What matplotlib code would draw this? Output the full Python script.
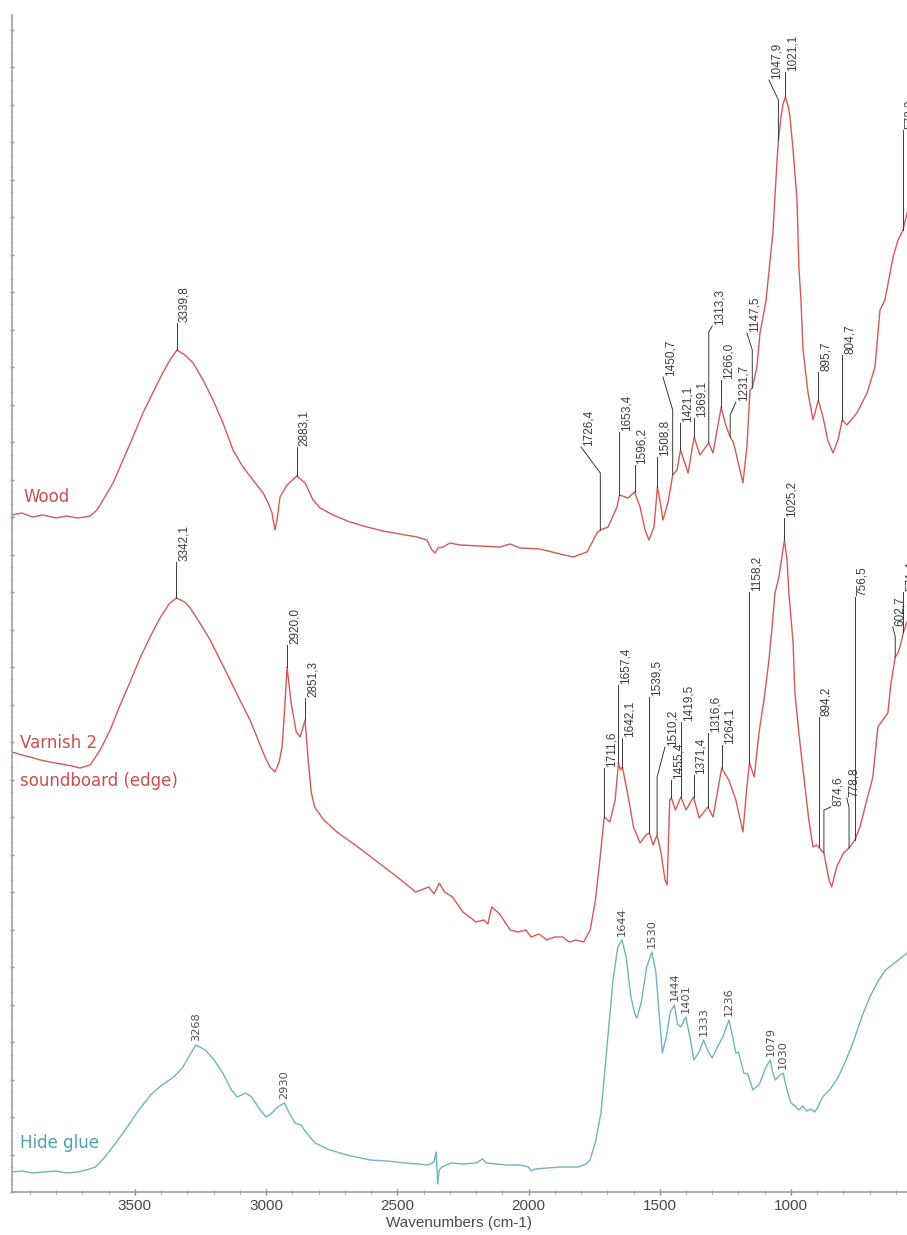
import numpy as np
import matplotlib
matplotlib.use("Agg")
import matplotlib.pyplot as plt
from matplotlib.ticker import MultipleLocator

# ---------------------------------------------------------------------------
# FTIR spectra, stacked (wavenumber in cm-1, absorbance in arbitrary units)
# ---------------------------------------------------------------------------
wood_wn = [3968, 3930, 3890, 3850, 3800, 3760, 3720, 3690, 3670, 3644, 3621, 3583,
           3545, 3507, 3469, 3430, 3392, 3366, 3339.8, 3309, 3278, 3240, 3202, 3164,
           3126, 3088, 3050, 3011, 2992, 2977, 2973, 2966, 2958, 2947, 2920, 2883.1,
           2851, 2821, 2794, 2745, 2680, 2615, 2554, 2490, 2425, 2387, 2368, 2356, 2345,
           2326, 2299, 2261, 2185, 2109, 2070, 2032, 1956, 1880, 1830, 1777, 1739,
           1726.4, 1697, 1663, 1653.4, 1621, 1596.2, 1575, 1556, 1541, 1522, 1508.8,
           1495, 1488, 1469, 1450.7, 1434, 1421.1, 1392, 1369.1, 1347, 1313.3, 1297,
           1266.0, 1250, 1231.7, 1220, 1206, 1183, 1168, 1156, 1147.5, 1130, 1118,
           1095, 1069, 1053, 1047.9, 1038, 1030, 1021.1, 1010, 1004, 992, 977, 970,
           962, 954, 935, 916, 895.7, 878, 860, 840, 821, 804.7, 787, 749, 710, 680,
           661, 642, 611, 592, 573.2, 558]
wood_abs = [0.677, 0.679, 0.675, 0.677, 0.674, 0.676, 0.674, 0.675, 0.676, 0.682, 0.692, 0.709,
            0.732, 0.755, 0.779, 0.800, 0.820, 0.832, 0.842, 0.837, 0.829, 0.812, 0.792, 0.769,
            0.742, 0.725, 0.712, 0.699, 0.689, 0.679, 0.672, 0.662, 0.672, 0.695, 0.707, 0.716,
            0.709, 0.692, 0.684, 0.677, 0.670, 0.665, 0.661, 0.658, 0.655, 0.652, 0.642, 0.639, 0.644,
            0.645, 0.649, 0.647, 0.646, 0.645, 0.648, 0.644, 0.643, 0.638, 0.635, 0.640, 0.659,
            0.662, 0.665, 0.685, 0.697, 0.694, 0.700, 0.685, 0.662, 0.652, 0.665, 0.705,
            0.685, 0.672, 0.689, 0.717, 0.722, 0.742, 0.719, 0.755, 0.737, 0.749, 0.739,
            0.785, 0.768, 0.755, 0.750, 0.735, 0.709, 0.745, 0.802, 0.804, 0.825, 0.859,
            0.892, 0.959, 1.032, 1.052, 1.075, 1.088, 1.095, 1.085, 1.075, 1.042, 0.992, 0.925,
            0.892, 0.842, 0.799, 0.772, 0.792, 0.775, 0.752, 0.739, 0.752, 0.772, 0.767, 0.779,
            0.799, 0.825, 0.882, 0.892, 0.935, 0.952, 0.962, 0.979]
wood_peaks = [3339.8, 2883.1, 1726.4, 1653.4, 1596.2, 1508.8, 1450.7, 1421.1, 1369.1,
              1313.3, 1266.0, 1231.7, 1147.5, 1047.9, 1021.1, 895.7, 804.7, 573.2]

varnish_wn = [3968, 3930, 3899, 3860, 3823, 3780, 3740, 3709, 3670, 3632, 3594, 3556,
              3518, 3480, 3442, 3404, 3370, 3342.1, 3310, 3289, 3250, 3213, 3175, 3137,
              3100, 3061, 3030, 3004, 2985, 2966, 2950, 2939, 2930, 2920.0, 2905, 2885,
              2870, 2851.3, 2839, 2828, 2815, 2780, 2730, 2650, 2600, 2500, 2430, 2380,
              2360, 2340, 2320, 2290, 2250, 2200, 2170, 2155, 2140, 2110, 2090, 2070, 2040,
              2010, 1990, 1960, 1930, 1900, 1870, 1845, 1820, 1790, 1765, 1745, 1725,
              1711.6, 1690, 1670, 1657.4, 1650, 1642.1, 1620, 1600, 1575, 1553, 1539.5,
              1525, 1510.2, 1495, 1480, 1472, 1462, 1455.4, 1440, 1419.5, 1400, 1371.4,
              1350, 1316.6, 1297, 1264.1, 1237, 1210, 1183, 1168, 1158.2, 1140, 1122,
              1103, 1084, 1072, 1061, 1046, 1025.2, 1015, 1008, 992, 985, 970, 951, 932,
              916, 903, 894.2, 886, 874.6, 855, 845, 826, 800, 778.8, 756.5, 737, 714,
              688, 669, 650, 631, 619, 602.7, 592, 581, 571.4, 558]
varnish_abs = [0.440, 0.437, 0.435, 0.432, 0.430, 0.428, 0.426, 0.424, 0.427, 0.442, 0.462, 0.487,
               0.510, 0.534, 0.555, 0.574, 0.588, 0.594, 0.590, 0.584, 0.568, 0.552, 0.532, 0.512,
               0.492, 0.472, 0.452, 0.435, 0.425, 0.420, 0.430, 0.445, 0.480, 0.525, 0.490, 0.460,
               0.455, 0.472, 0.430, 0.400, 0.385, 0.372, 0.360, 0.345, 0.335, 0.315, 0.300, 0.305,
               0.298, 0.309, 0.300, 0.295, 0.280, 0.270, 0.272, 0.268, 0.285, 0.278, 0.270, 0.262, 0.260,
               0.262, 0.255, 0.258, 0.252, 0.255, 0.255, 0.250, 0.252, 0.250, 0.262, 0.292, 0.340,
               0.375, 0.370, 0.392, 0.429, 0.422, 0.425, 0.395, 0.365, 0.349, 0.357, 0.359,
               0.347, 0.357, 0.339, 0.312, 0.307, 0.392, 0.394, 0.382, 0.395, 0.382, 0.395,
               0.374, 0.385, 0.375, 0.424, 0.412, 0.392, 0.360, 0.405, 0.429, 0.415, 0.459,
               0.492, 0.532, 0.565, 0.599, 0.615, 0.652, 0.632, 0.599, 0.549, 0.499, 0.459, 0.415, 0.372,
               0.345, 0.347, 0.345, 0.342, 0.339, 0.312, 0.305, 0.325, 0.339, 0.344, 0.352, 0.365, 0.389,
               0.415, 0.465, 0.472, 0.479, 0.509, 0.535, 0.539, 0.549, 0.560, 0.570]
varnish_peaks = [3342.1, 2920.0, 2851.3, 1711.6, 1657.4, 1642.1, 1539.5, 1510.2, 1455.4,
                 1419.5, 1371.4, 1316.6, 1264.1, 1158.2, 1025.2, 894.2, 874.6, 778.8,
                 756.5, 602.7, 571.4]

glue_wn = [3968, 3930, 3890, 3850, 3800, 3760, 3720, 3684, 3650, 3617, 3573, 3529, 3485,
           3440, 3397, 3352, 3319, 3286, 3268, 3231, 3198, 3165, 3132, 3110, 3077, 3055,
           3022, 3000, 2978, 2956, 2930, 2912, 2890, 2867, 2846, 2813, 2757, 2691, 2604,
           2540, 2470, 2420, 2383, 2360, 2352, 2346, 2340, 2330, 2295, 2250, 2200, 2175,
           2162, 2120, 2080, 2032, 2000, 1990, 1975, 1930, 1880, 1811, 1780, 1766, 1745,
           1724, 1701, 1678, 1660, 1644, 1628, 1610, 1595, 1587, 1570, 1550, 1530, 1515,
           1500, 1490, 1475, 1460, 1444, 1432, 1420, 1401, 1385, 1370, 1350, 1333, 1315,
           1300, 1280, 1260, 1236, 1222, 1210, 1200, 1180, 1165, 1145, 1120, 1095, 1079,
           1068, 1060, 1045, 1030, 1015, 1000, 985, 970, 955, 940, 925, 910, 895, 880,
           850, 820, 790, 760, 730, 700, 670, 640, 600, 558]
glue_abs = [0.020, 0.021, 0.019, 0.020, 0.021, 0.019, 0.020, 0.022, 0.025, 0.034, 0.049, 0.065, 0.082,
            0.097, 0.107, 0.115, 0.124, 0.139, 0.147, 0.142, 0.132, 0.119, 0.102, 0.095, 0.099, 0.095,
            0.082, 0.075, 0.079, 0.085, 0.089, 0.079, 0.069, 0.067, 0.059, 0.049, 0.042, 0.037, 0.032,
            0.031, 0.029, 0.028, 0.027, 0.030, 0.040, 0.008, 0.022, 0.025, 0.029, 0.028, 0.029, 0.033,
            0.029, 0.028, 0.027, 0.027, 0.025, 0.021, 0.023, 0.024, 0.025, 0.025, 0.028, 0.032, 0.050,
            0.079, 0.145, 0.212, 0.245, 0.252, 0.235, 0.195, 0.178, 0.174, 0.190, 0.225, 0.240, 0.220,
            0.170, 0.139, 0.155, 0.180, 0.187, 0.168, 0.165, 0.175, 0.155, 0.132, 0.140, 0.152, 0.140,
            0.134, 0.145, 0.155, 0.172, 0.155, 0.139, 0.140, 0.119, 0.118, 0.102, 0.108, 0.125, 0.132,
            0.118, 0.112, 0.116, 0.119, 0.102, 0.089, 0.086, 0.082, 0.086, 0.081, 0.083, 0.080, 0.086,
            0.095, 0.103, 0.115, 0.132, 0.152, 0.175, 0.195, 0.210, 0.222, 0.230, 0.239]
glue_peaks = [3268, 2930, 1644, 1530, 1444, 1401, 1333, 1236, 1079, 1030]

series_names = ["Wood", "Varnish 2\n\nsoundboard (edge)", "Hide glue"]
x_ticks = [3500, 3000, 2500, 2000, 1500, 1000]

# leader geometry for the peak annotations: (knee height, text wavenumber, text height)
wood_leaders = [(0.869, None, None), (0.745, None, None), (0.719, 1800, 0.745),
                (0.760, None, None), (0.727, None, None), (0.735, None, None),
                (0.782, 1488, 0.815), (0.769, None, None), (0.774, None, None),
                (0.860, 1300, 0.866), (0.812, None, None), (0.777, 1210, 0.790),
                (0.842, 1168, 0.859), (1.092, 1084, 1.112), (1.120, None, None),
                (0.820, None, None), (0.837, None, None), (1.062, None, None)]
varnish_leaders = [(0.630, None, None), (0.547, None, None), (0.494, None, None),
                   (0.424, None, None), (0.507, None, None), (0.454, None, None),
                   (0.495, None, None), (0.415, 1480, 0.445), (0.412, None, None),
                   (0.470, None, None), (0.417, None, None), (0.459, None, None),
                   (0.447, None, None), (0.600, None, None), (0.674, None, None),
                   (0.475, None, None), (0.382, 848, 0.385), (0.384, 787, 0.394),
                   (0.595, None, None), (0.555, 612, 0.565), (0.600, None, None)]

RED = "#d45a58"
RED_TEXT = "#c9504d"
TEAL = "#6fb4be"
TEAL_TEXT = "#4aa2b0"
LEADER = "#3a3a3a"

fig = plt.figure(figsize=(9.07, 12.35), dpi=100)
ax = fig.add_axes([12 / 907, 43 / 1235, 895 / 907, 1177 / 1235])
ax.set_xlim(3968, 558)
ax.set_ylim(0, 1.177)

ax.plot(wood_wn, wood_abs, color=RED, lw=1.0)
ax.plot(varnish_wn, varnish_abs, color=RED, lw=1.0)
ax.plot(glue_wn, glue_abs, color=TEAL, lw=1.0)


def fmt(v):
    return f"{v:.1f}".replace(".", ",")


def annotate_peaks(wn, ab, peaks, leaders):
    order = np.argsort(wn)
    xs = np.asarray(wn, float)[order]
    ys = np.asarray(ab, float)[order]
    for p, (knee, tx, ty) in zip(peaks, leaders):
        y0 = np.interp(p, xs, ys)
        tx = p if tx is None else tx
        ty = knee if ty is None else ty
        ax.plot([p, p, tx], [y0, knee, ty], color=LEADER, lw=0.7, clip_on=False)
        ax.annotate(fmt(p), (tx, ty), xytext=(1.0, 0.5), textcoords="offset points",
                    rotation=90, ha="left", va="bottom", fontsize=8.5,
                    family=["Liberation Sans", "DejaVu Sans"], color="#3c3c3c")


annotate_peaks(wood_wn, wood_abs, wood_peaks, wood_leaders)
annotate_peaks(varnish_wn, varnish_abs, varnish_peaks, varnish_leaders)

g_order = np.argsort(glue_wn)
g_x = np.asarray(glue_wn, float)[g_order]
g_y = np.asarray(glue_abs, float)[g_order]
for p in glue_peaks:
    ax.text(p, np.interp(p, g_x, g_y) + 0.004, str(p), rotation=90, ha="center",
            va="bottom", fontsize=8.2, color="#4f4f4f")

# series names
name_font = dict(fontsize=12, family=["DejaVu Sans"])
ax.text(3925, 0.690, series_names[0], color=RED_TEXT, **name_font)
ax.text(3938, 0.402, series_names[1], color=RED_TEXT, va="bottom", linespacing=1.08, **name_font)
ax.text(3936, 0.044, series_names[2], color=TEAL_TEXT, **name_font)

# axes styling
for side in ("top", "right"):
    ax.spines[side].set_visible(False)
for side in ("left", "bottom"):
    ax.spines[side].set_color("#a0a0a0")
    ax.spines[side].set_linewidth(1.2)

ax.set_xticks(x_ticks)
ax.xaxis.set_minor_locator(MultipleLocator(100))
ax.yaxis.set_major_locator(MultipleLocator(0.0375))
ax.yaxis.set_minor_locator(MultipleLocator(0.0125))
ax.tick_params(axis="x", which="major", direction="inout", length=4, width=1,
               color="#8a8a8a", labelsize=11, labelcolor="#4a4a4a", pad=3)
ax.tick_params(axis="x", which="minor", direction="inout", length=2.5, width=0.8, color="#a0a0a0")
ax.tick_params(axis="y", which="major", direction="inout", length=3.5, width=1,
               color="#8a8a8a", labelleft=False)
ax.tick_params(axis="y", which="minor", direction="inout", length=2, width=0.7, color="#b0b0b0")
for lbl in ax.get_xticklabels():
    lbl.set_family(["Liberation Sans Narrow", "Liberation Sans"])
ax.set_xlabel("Wavenumbers (cm-1)", fontsize=11, color="#4a4a4a", labelpad=2,
              family=["Liberation Sans Narrow", "Liberation Sans"])

fig.savefig("out.png", dpi=100, facecolor="white")
